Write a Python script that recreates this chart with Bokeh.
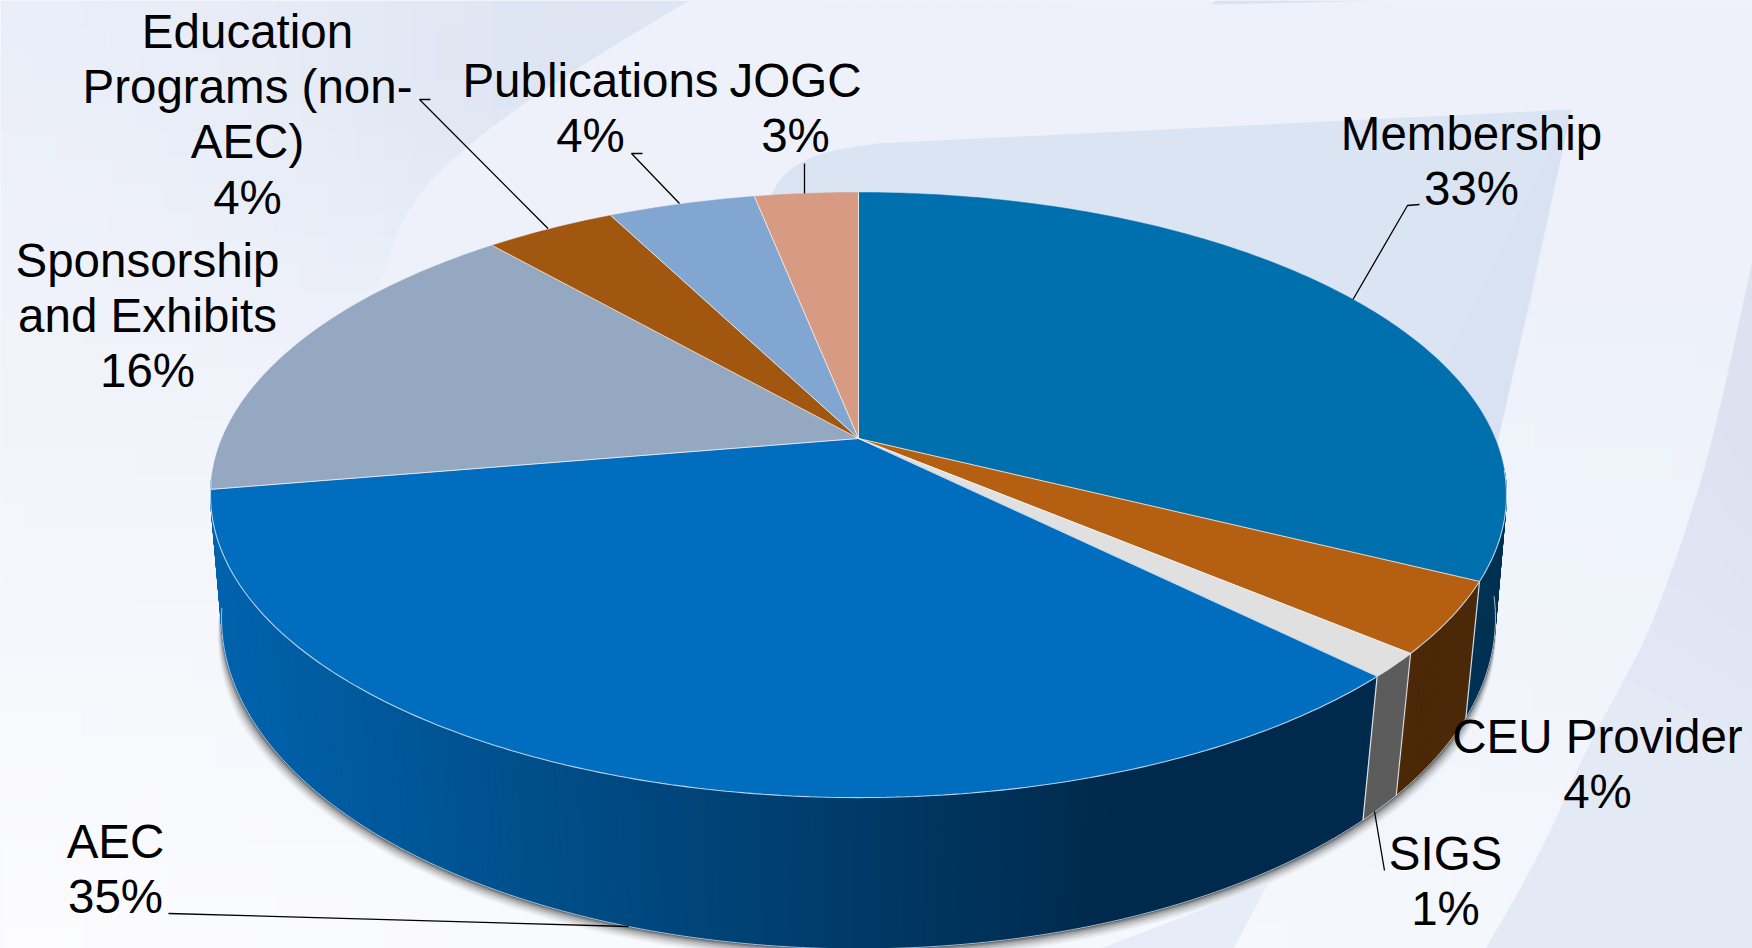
import numpy as np
from bokeh.plotting import figure
from bokeh.models import Range1d
from bokeh.core.properties import value
from bokeh.embed import file_html
from bokeh.resources import INLINE

# ---- data ----
categories = ["Membership", "CEU Provider", "SIGS", "AEC", "Sponsorship and Exhibits",
              "Education Programs (non-AEC)", "Publications", "JOGC"]
shares = [32.4, 3.8, 1.3, 34.8, 16.3, 3.9, 4.4, 3.1]
percent_labels = ["33%", "4%", "1%", "35%", "16%", "4%", "4%", "3%"]
top_colors = ["#006fae", "#b55f13", "#e0e0e0", "#006dbf", "#95a8c2", "#a25710", "#81a6d1", "#d79b83"]
wall_colors = ["#003052", "#4a2808", "#5c5c5c", None, None, None, None, None]

label_lines = [
    ["Membership", "33%"], ["CEU Provider", "4%"], ["SIGS", "1%"], ["AEC", "35%"],
    ["Sponsorship", "and Exhibits", "16%"], ["Education", "Programs (non-", "AEC)", "4%"],
    ["Publications", "4%"], ["JOGC", "3%"],
]
label_x = [1471, 1597, 1445, 115, 147, 247, 590, 795]
label_y0 = [150, 753, 870, 858, 277, 48, 97, 97]
leaders = [
    ([1419, 1407, 1352.5], [204, 205, 299]),
    ([1374, 1384], [811, 870]),
    ([168, 628], [913, 926]),
    ([430, 419, 547.5], [99, 99, 228]),
    ([642, 631, 679], [153, 153, 203]),
    ([804, 804], [163, 193]),
]

W, H = 1752, 948
p = figure(width=W, height=H, x_range=Range1d(0, W), y_range=Range1d(H, 0),
           output_backend="svg", toolbar_location=None, min_border=0)
p.axis.visible = False
p.grid.visible = False
p.outline_line_color = None
p.background_fill_color = "#eef2fa"
p.border_fill_color = None


def hexc(c):
    return np.array([int(c[i:i + 2], 16) for i in (1, 3, 5)], dtype=float)


def tohex(a):
    return "#%02x%02x%02x" % tuple(int(round(v)) for v in a)


def chaikin(x, y, rounds=3):
    pts = np.column_stack([x, y]).astype(float)
    for _ in range(rounds):
        a, b = pts[:-1], pts[1:]
        q = .75 * a + .25 * b
        r = .25 * a + .75 * b
        mid = np.empty((2 * len(a), 2))
        mid[0::2], mid[1::2] = q, r
        pts = np.vstack([pts[0], mid, pts[-1]])
    return pts[:, 0], pts[:, 1]


# ---- background ----
TL, TR, BL, BR = map(hexc, ["#eaeef8", "#eaeff9", "#fcfcfe", "#f3f6fc"])
DK = hexc("#dee5f2")
nx, ny = 64, 36
xe = np.linspace(0, W, nx + 1)
ye = np.linspace(0, H, ny + 1)
L, R, T, B, C = [], [], [], [], []
for i in range(nx):
    for j in range(ny):
        fx, fy = (i + .5) / nx, (j + .5) / ny
        col = (1 - fx) * (1 - fy) * TL + fx * (1 - fy) * TR + (1 - fx) * fy * BL + fx * fy * BR
        cx, cy = fx * W, fy * H
        f = np.exp(-(((cx - 600) / 330) ** 2 + ((cy - 60) / 230) ** 2))
        col = col + (DK - col) * f
        L.append(xe[i]); R.append(xe[i + 1] + 1); T.append(ye[j]); B.append(ye[j + 1] + 1); C.append(tohex(col))
p.quad(left=L, right=R, top=T, bottom=B, fill_color=C, line_color=None)

cx1, cy1 = chaikin([689, 580, 480, 408, 377, 360], [0, 65, 133, 200, 290, 340])
p.patch(np.r_[cx1, 500, 858, W, W], np.r_[cy1, 400, 300, 300, 0], fill_color="#eef1fa", line_color=None)

tx0, ty0 = chaikin([770, 785, 820, 876], [195, 170, 152, 143])
p.patch(np.r_[tx0, 1571, 1499, 1480, 858], np.r_[ty0, 109, 433, 560, 560], fill_color="#dbe4f3", line_color=None)
p.patch([1400, 1571, 1530, 1499, 1470], [450, 109, 300, 433, 600], fill_color="#d6e0f1", fill_alpha=.5, line_color=None)

cx2, cy2 = chaikin([W, 1725, 1703, 1677, 1647, 1619, 1585, 1552, 1519, 1485],
                   [260, 385, 474, 555, 635, 688, 750, 827, 890, H])
p.patch(np.r_[cx2, W], np.r_[cy2, H], fill_color="#e4e9f6", line_color=None)
for cut in [430, 480, 530, 580, 630, 680]:
    keep = cy2 <= cut
    p.patch(np.r_[cx2[keep], W], np.r_[cy2[keep], cut + 60], fill_color="#d8e1f2", fill_alpha=.13, line_color=None)

p.patch([1267, 1233, 1100], [884, H, H], fill_color="#e8ecf8", line_color=None)
p.patch([1211, 1390, 1215], [4, 0, 0], fill_color="#d8e2f3", line_color=None)


# ---- projection of the pie discs: theta in degrees clockwise from 12 o'clock ----
def upper(theta):
    t = np.radians(theta)
    u, v = np.sin(t), np.cos(t)
    k = .1868
    w = 1 + k * v
    return 858 + 636.6 * u / w, 438 - 292 * v / w


def lower(theta):
    t = np.radians(theta)
    u, v = np.sin(t), np.cos(t)
    k = .17
    w = 1 + k * v
    return 858 + 627.7 * u / w, 561.6 - 321 * v / w


edges = np.concatenate([[0], np.cumsum(shares)]) * 3.6 * 100 / sum(shares)

# soft shadow under the lower disc
arc = np.linspace(100, 266, 240)
lx, ly = lower(arc)
taper = np.clip(np.minimum((266 - arc) / 22, (arc - 100) / 22), 0, 1)
for grow, alpha in [(12, .04), (10, .06), (8, .08), (6, .1), (4, .13), (2.5, .17), (1.2, .22)]:
    g = grow * taper
    sx = 858 + (lx - 858) * (1 + g / 637)
    sy = 618 + (ly - 618) * (1 + g / 331)
    p.patch(sx, sy, fill_color="#000000", fill_alpha=alpha, line_color=None)

# side wall
G0, G1 = hexc("#0063ad"), hexc("#002a4d")
wall_start = 96
for i in range(len(shares) - 1, -1, -1):
    a0, a1 = max(edges[i], wall_start), min(edges[i + 1], 262)
    if a1 <= a0:
        continue
    n = max(2, int((a1 - a0) * 1.5))
    th = np.linspace(a0, a1, n + 1)
    ux, uy = upper(th)
    dx, dy = lower(th)
    xs, ys, cs = [], [], []
    for q in range(n):
        xs.append([ux[q], ux[q + 1], dx[q + 1], dx[q]])
        ys.append([uy[q], uy[q + 1], dy[q + 1], dy[q]])
        if wall_colors[i]:
            cs.append(wall_colors[i])
        else:
            f = np.clip((1110 - (ux[q] + dx[q]) / 2) / (1110 - 215), 0, 1)
            cs.append(tohex(G1 + (G0 - G1) * f))
    p.patches(xs, ys, fill_color=cs, line_color=cs, line_width=1)

# separators and rims of the wall
for a in edges[1:3]:
    ux, uy = upper(a)
    dx, dy = lower(a)
    p.line([ux, dx], [uy, dy], line_color="#e8eef4", line_width=1.2, line_alpha=.9)
a = edges[3]
ux, uy = upper(a)
dx, dy = lower(a)
p.line([ux, dx], [uy, dy], line_color="#e8eef4", line_width=1.2, line_alpha=.9)
th = np.linspace(wall_start, 262, 200)
dx, dy = lower(th)
p.line(dx, dy, line_color="#d5dce4", line_width=1, line_alpha=.8)

# top face
for i in range(len(shares)):
    th = np.linspace(edges[i], edges[i + 1], max(3, int(shares[i] * 4)))
    ex, ey = upper(th)
    p.patch(np.r_[858, ex], np.r_[438, ey], fill_color=top_colors[i], line_color=top_colors[i], line_width=.5)
for a in edges[:-1]:
    ex, ey = upper(a)
    p.line([858, ex], [438, ey], line_color="#ffffff", line_width=1, line_alpha=.75)
th = np.linspace(wall_start, 262, 240)
ex, ey = upper(th)
p.line(ex, ey, line_color="#d8e8f4", line_width=1.1, line_alpha=.85)

# leaders and labels
for xs, ys in leaders:
    p.line(xs, ys, line_color="#000000", line_width=1.3)

tx, ty, tt = [], [], []
for lines, x, y in zip(label_lines, label_x, label_y0):
    for n, s in enumerate(lines):
        tx.append(x); ty.append(y + n * 55.2); tt.append(s)
p.text(tx, ty, text=tt, y_offset=-17, text_font=value("Liberation Sans"), text_font_size=value("47.5px"),
       text_color="#000000", text_align="center", text_baseline="alphabetic")

open("out.html", "w").write(file_html(p, INLINE))
